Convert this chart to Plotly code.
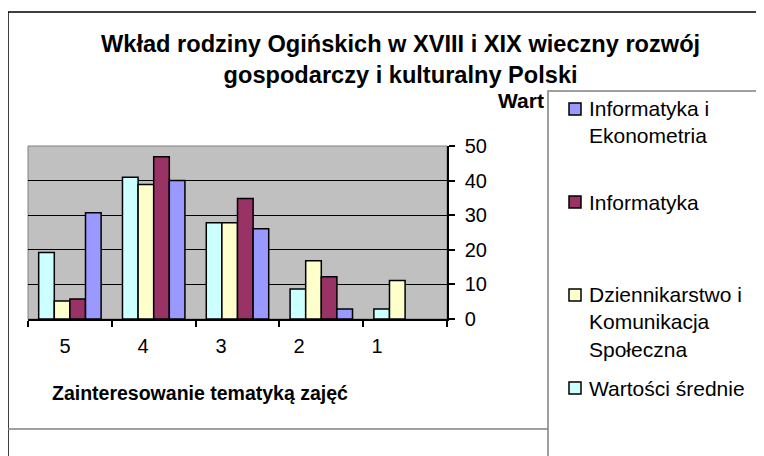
import plotly.graph_objects as go

# ---------------- data ----------------
categories = ["5", "4", "3", "2", "1"]
series_names = [
    "Wartości średnie",
    "Dziennikarstwo i Komunikacja Społeczna",
    "Informatyka",
    "Informatyka i Ekonometria",
]
wartosci_srednie = [19.2, 41.0, 27.8, 8.7, 2.9]
dziennikarstwo = [5.2, 38.9, 27.8, 16.8, 11.1]
informatyka = [5.8, 46.9, 34.8, 12.2, None]
informatyka_ekon = [30.7, 40.0, 26.1, 2.9, None]
y_ticks = [0, 10, 20, 30, 40, 50]
title_lines = ["Wkład rodziny Ogińskich w XVIII i XIX wieczny rozwój",
               "gospodarczy i kulturalny Polski"]
x_title = "Zainteresowanie tematyką zajęć"
y_title_visible = "Wart"
legend_labels = ["Informatyka i<br>Ekonometria", "Informatyka",
                 "Dziennikarstwo i<br>Komunikacja<br>Społeczna", "Wartości średnie"]

colors = ["#CCFFFF", "#FFFFCC", "#993366", "#9999FF"]
FONT = "Liberation Sans, Arial, sans-serif"

# ---------------- geometry helpers (screen pixel -> paper) ----------------
OFF = 8                      # page body margin
W, H = 764 - OFF, 456 - OFF  # figure size
L, R, T, B = 28, 447, 146, 319   # plot area in screen pixels
CAT_W = (R - L) / len(categories)


def px(x):
    return (x - L) / (R - L)


def py(y):
    return (B - y) / (B - T)


fig = go.Figure()
xs = list(range(len(categories)))
all_series = [wartosci_srednie, dziennikarstwo, informatyka, informatyka_ekon]
for name, vals, col in zip(series_names, all_series, colors):
    fig.add_trace(go.Bar(
        x=xs, y=vals, name=name,
        marker=dict(color=col, line=dict(color="black", width=1.5)),
        showlegend=False,
    ))

# category label positions (slightly compressed spacing as in the original)
label_pos = [(65 + 78 * i - L) / CAT_W - 0.5 for i in range(len(categories))]

shapes = []
shapes.append(dict(type="rect", xref="paper", yref="paper", x0=0, x1=1, y0=0, y1=1,
                   line=dict(color="#808080", width=1), layer="below"))
shapes.append(dict(type="rect", xref="paper", yref="paper",
                   x0=px(8), x1=px(800), y0=py(12), y1=py(520),
                   line=dict(color="black", width=1.5), fillcolor="rgba(0,0,0,0)", layer="above"))
shapes.append(dict(type="line", xref="paper", yref="paper",
                   x0=px(8), x1=px(548), y0=py(429), y1=py(429),
                   line=dict(color="#808080", width=1.5)))
shapes.append(dict(type="rect", xref="paper", yref="paper",
                   x0=px(548), x1=px(800), y0=py(91), y1=py(520),
                   line=dict(color="#808080", width=1.5), fillcolor="white", layer="above"))

annotations = []
annotations.append(dict(xref="paper", yref="paper", x=px(400), y=py(60),
                        text="<br>".join(title_lines), showarrow=False,
                        xanchor="center", yanchor="middle",
                        font=dict(family=FONT, size=23.6, color="black", weight="bold")))
annotations.append(dict(xref="paper", yref="paper", x=px(200), y=py(393),
                        text=x_title, showarrow=False, xanchor="center", yanchor="middle",
                        font=dict(family=FONT, size=19.5, color="black", weight="bold")))
annotations.append(dict(xref="paper", yref="paper", x=px(546), y=py(100),
                        text=y_title_visible, showarrow=False, xanchor="right", yanchor="middle",
                        font=dict(family=FONT, size=21, color="black", weight="bold")))

legend_colors = [colors[3], colors[2], colors[1], colors[0]]
swatch_y = [109, 202, 295, 388]
text_y = [122, 202, 322, 388]
for lab, col, sy, ty in zip(legend_labels, legend_colors, swatch_y, text_y):
    shapes.append(dict(type="rect", xref="paper", yref="paper",
                       x0=px(569), x1=px(581), y0=py(sy + 6), y1=py(sy - 6),
                       line=dict(color="black", width=1.5), fillcolor=col, layer="above"))
    annotations.append(dict(xref="paper", yref="paper", x=px(587), y=py(ty),
                            text=lab, showarrow=False, xanchor="left", yanchor="middle",
                            align="left",
                            font=dict(family=FONT, size=21, color="black")))

fig.update_layout(
    width=W, height=H,
    margin=dict(l=L - OFF, r=W - (R - OFF), t=T - OFF, b=H - (B - OFF), autoexpand=False),
    paper_bgcolor="white",
    plot_bgcolor="#C0C0C0",
    barmode="group", bargap=0.255, bargroupgap=0,
    showlegend=False,
    font=dict(family=FONT, size=20, color="black"),
    xaxis=dict(range=[-0.5, len(categories) - 0.5],
               tickmode="array", tickvals=label_pos, ticktext=categories,
               ticks="", ticklabelstandoff=8,
               tickfont=dict(family=FONT, size=20, color="black"),
               minor=dict(tickmode="array",
                          tickvals=[i - 0.5 for i in range(len(categories) + 1)],
                          ticks="outside", ticklen=6, tickcolor="black", tickwidth=1.5,
                          showgrid=False),
               showgrid=False, zeroline=False,
               showline=True, linecolor="black", linewidth=1.5),
    yaxis=dict(range=[0, 50], tickvals=y_ticks, side="right",
               ticks="outside", ticklen=6, tickcolor="black", tickwidth=1.5,
               showgrid=True, gridcolor="black", gridwidth=1,
               zeroline=False, showline=True, linecolor="black", linewidth=1.5,
               ticklabelstandoff=6,
               tickfont=dict(family=FONT, size=20, color="black")),
    shapes=shapes,
    annotations=annotations,
)

fig.write_html("out.html")
